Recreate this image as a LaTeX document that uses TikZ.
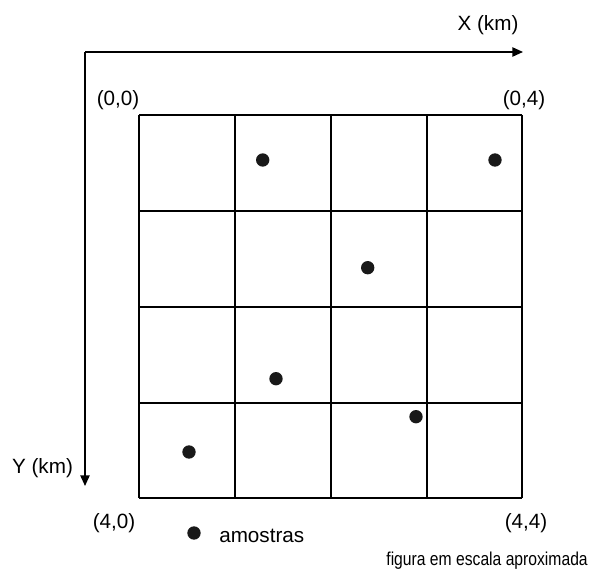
\documentclass[tikz,border=0pt]{standalone}
\usepackage{fontspec}
\setmainfont{Liberation Sans}
\newfontfamily\narrowfont{Liberation Sans}[FakeStretch=0.84]
\usetikzlibrary{arrows.meta}
\tikzset{
  rotulo/.style={anchor=base, inner sep=0pt, font=\fontsize{15.5}{18}\selectfont},
  amostra/.style={circle, fill=black!90, inner sep=0pt, minimum size=10pt},
  eixo/.style={line width=1.1pt, -{Triangle[length=8pt,width=7pt]}}
}
\begin{document}
\begin{tikzpicture}[x=0.75pt, y=-0.75pt]
        \useasboundingbox (0,0) rectangle (597,573);
        % eixos
        \coordinate (origem) at (85,52);
        \coordinate (xfim) at (523,52);
        \coordinate (yfim) at (85,486);
        \draw[eixo] (origem) -- (xfim);
        \draw[eixo] (origem) -- (yfim);
        \node[rotulo] (xlab) at (488,31) {X (km)};
        \node[rotulo] (ylab) at (42.5,474) {Y (km)};
        
        % malha 4x4
        \foreach \p in {139,235,331,427,522} {
          \draw[line width=1.6pt] (\p,115) -- (\p,498);
        }
        \foreach \p in {115,211,307,403,498} {
          \draw[line width=1.6pt] (139,\p) -- (522,\p);
        }
        \node[rotulo] (c00) at (118,106) {(0,0)};
        \node[rotulo] (c04) at (524,106) {(0,4)};
        \node[rotulo] (c40) at (114,529) {(4,0)};
        \node[rotulo] (c44) at (526,529) {(4,4)};
        
        % amostras
        \node[amostra] (a1) at (262.7,160) {};
        \node[amostra] (a2) at (495,160) {};
        \node[amostra] (a3) at (367.7,267.7) {};
        \node[amostra] (a4) at (276,378.7) {};
        \node[amostra] (a5) at (416,416.7) {};
        \node[amostra] (a6) at (189,452) {};
        
        % legenda
        \node[amostra] (leg) at (194,533) {};
        \node[rotulo, anchor=base west] (legtxt) at (219,543) {amostras};
        \node[anchor=base east, inner sep=0pt, font=\narrowfont\fontsize{14}{16}\selectfont] (escala) at (588,566) {figura em escala aproximada};
      \end{tikzpicture}
\end{document}
